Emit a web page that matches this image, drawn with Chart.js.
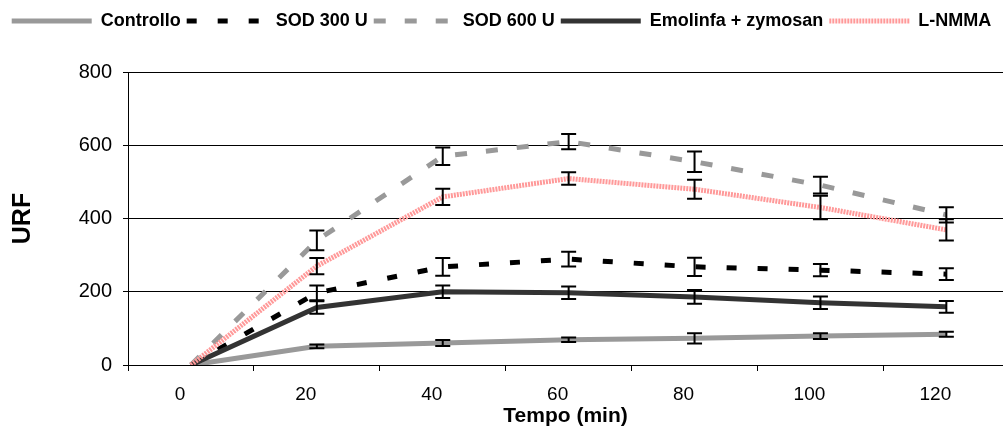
<!DOCTYPE html>
<html>
<head>
<meta charset="utf-8">
<script src="https://cdn.jsdelivr.net/npm/chart.js@4.4.1/dist/chart.umd.min.js"></script>
<style>
  html, body { margin: 0; padding: 0; background: #fff; }
  #wrap { width: 1003px; height: 430px; }
</style>
</head>
<body>
<div id="wrap"><canvas id="urf-chart"></canvas></div>
<script>
// tempo (min) and URF readings, error = half bar
const times = [0, 20, 40, 60, 80, 100, 120];
const controllo = [0, 51, 60, 69, 73, 79, 84];
const controlloErr = [0, 5, 8, 6, 14, 8, 7];
const sod300 = [0, 197, 268, 289, 268, 259, 248];
const sod300Err = [0, 20, 24, 20, 25, 17, 16];
const sod600 = [0, 340, 570, 610, 555, 491, 410];
const sod600Err = [0, 27, 24, 21, 28, 23, 21];
const emolinfa = [0, 157, 200, 197, 186, 170, 159];
const emolinfaErr = [0, 17, 17, 17, 19, 17, 16];
const lnmma = [0, 270, 459, 509, 480, 430, 369];
const lnmmaErr = [0, 22, 22, 17, 26, 32, 29];

const xTickValues = [-10, 0, 10, 20, 30, 40, 50, 60, 70, 80, 90, 100, 110, 120];
const yTickValues = [0, 200, 400, 600, 800];

const FONT = "'Liberation Sans', Arial, sans-serif";

function points(values) {
  return values.map((v, i) => ({ x: times[i], y: v }));
}

function series(label, values, errors, color, width, dash, order) {
  return {
    label: label,
    data: points(values),
    errors: errors,
    borderColor: color,
    backgroundColor: color,
    borderWidth: width,
    borderDash: dash,
    pointRadius: 0,
    pointHoverRadius: 0,
    tension: 0,
    fill: false,
    order: order
  };
}

// error bars drawn with the chart's own scales
const errorBars = {
  id: 'errorBars',
  afterDatasetsDraw(chart) {
    const ctx = chart.ctx;
    const x = chart.scales.x;
    const y = chart.scales.y;
    ctx.save();
    ctx.strokeStyle = '#000';
    ctx.lineWidth = 2;
    ctx.setLineDash([]);
    chart.data.datasets.forEach(ds => {
      ds.errors.forEach((e, i) => {
        if (!e) return;
        const px = x.getPixelForValue(times[i]);
        const top = y.getPixelForValue(ds.data[i].y + e);
        const bot = y.getPixelForValue(ds.data[i].y - e);
        ctx.beginPath();
        ctx.moveTo(px, top);
        ctx.lineTo(px, bot);
        ctx.moveTo(px - 7.5, top);
        ctx.lineTo(px + 7.5, top);
        ctx.moveTo(px - 7.5, bot);
        ctx.lineTo(px + 7.5, bot);
        ctx.stroke();
      });
    });
    ctx.restore();
  }
};

const legendHeight = {
  id: 'legendHeight',
  beforeInit(chart) {
    const fit = chart.legend.fit;
    chart.legend.fit = function () {
      fit.call(this);
      this.height = 66;
    };
  }
};

new Chart(document.getElementById('urf-chart'), {
  type: 'line',
  data: {
    datasets: [
      series('Controllo', controllo, controlloErr, '#999999', 5, [], 4),
      series('SOD 300 U', sod300, sod300Err, '#000000', 5, [10, 21], 3),
      series('SOD 600 U', sod600, sod600Err, '#999999', 5, [12, 19], 2),
      series('Emolinfa + zymosan', emolinfa, emolinfaErr, '#333333', 5, [], 1),
      series('L-NMMA', lnmma, lnmmaErr, '#ff9999', 5, [2, 1], 0)
    ]
  },
  options: {
    responsive: true,
    maintainAspectRatio: false,
    animation: false,
    layout: { padding: { top: 6, left: 0, right: 0, bottom: 0 } },
    plugins: {
      tooltip: { enabled: false },
      legend: {
        position: 'top',
        labels: {
          usePointStyle: true,
          pointStyle: 'line',
          pointStyleWidth: 80,
          padding: 6,
          color: '#000',
          font: { family: FONT, size: 18, weight: 'bold' },
          sort: (a, b) => a.datasetIndex - b.datasetIndex,
          generateLabels: chart => {
            const items = Chart.defaults.plugins.legend.labels.generateLabels(chart);
            items.forEach(it => {
              const ds = chart.data.datasets[it.datasetIndex];
              it.lineDash = ds.borderDash;
              it.lineWidth = ds.borderWidth;
              it.strokeStyle = ds.borderColor;
            });
            return items;
          }
        }
      }
    },
    scales: {
      x: {
        type: 'linear',
        min: -10,
        max: 129,
        afterBuildTicks: scale => {
          scale.ticks = xTickValues.map(v => ({ value: v }));
        },
        afterFit: scale => { scale.height = 65; },
        border: { display: true, color: '#000', width: 1 },
        grid: {
          drawOnChartArea: false,
          drawTicks: true,
          tickLength: 6,
          tickColor: c => (c.tick && c.tick.value % 20 === 0) ? 'rgba(0,0,0,0)' : '#000'
        },
        ticks: {
          autoSkip: false,
          maxRotation: 0,
          padding: 12,
          labelOffset: -11,
          color: '#000',
          font: { family: FONT, size: 19 },
          callback: v => (v >= 0 && v % 20 === 0) ? String(v) : ''
        },
        title: {
          display: true,
          text: 'Tempo (min)',
          color: '#000',
          font: { family: FONT, size: 21, weight: 'bold' },
          padding: { top: 0, bottom: 1 }
        }
      },
      y: {
        min: 0,
        max: 800,
        afterBuildTicks: scale => {
          scale.ticks = yTickValues.map(v => ({ value: v }));
        },
        afterFit: scale => { scale.width = 128; },
        border: { display: true, color: '#000', width: 1 },
        grid: {
          color: '#000',
          lineWidth: 1,
          drawTicks: true,
          tickLength: 5,
          tickColor: '#000'
        },
        ticks: {
          padding: 11,
          color: '#000',
          font: { family: FONT, size: 20 }
        },
        title: {
          display: true,
          text: 'URF',
          color: '#000',
          font: { family: FONT, size: 25, weight: 'bold' },
          padding: { top: 8, bottom: 0 }
        }
      }
    }
  },
  plugins: [errorBars, legendHeight]
});
</script>
</body>
</html>
